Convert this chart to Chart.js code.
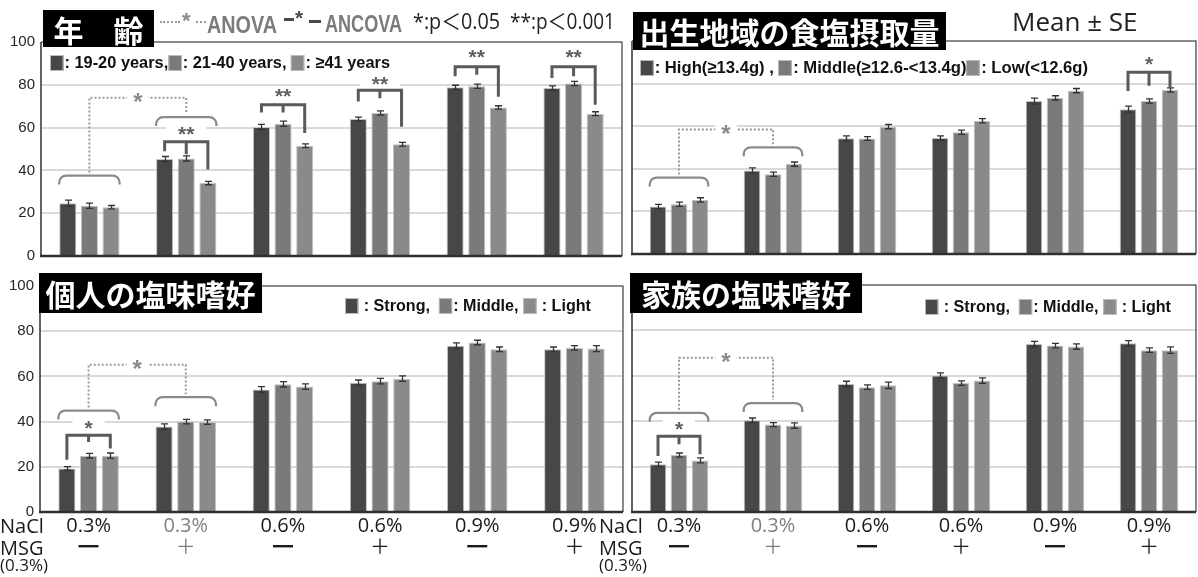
<!DOCTYPE html>
<html lang="ja">
<head>
<meta charset="utf-8">
<title>塩味の嗜好と評価</title>
<script src="https://cdn.jsdelivr.net/npm/chart.js@4.4.1/dist/chart.umd.min.js"></script>
<style>
  html, body { margin:0; padding:0; background:#fff; }
  body { position:relative; width:1198px; height:577px; overflow:hidden;
         font-family:"Liberation Sans","DejaVu Sans","Noto Sans CJK JP",sans-serif; color:#1a1a1a; }
  canvas { position:absolute; }
  .abs { position:absolute; white-space:nowrap; transform-origin:0 50%; }
  .ttl { position:absolute; background:#000; color:#fff; font-family:"Noto Sans CJK JP",sans-serif;
         font-weight:700; font-size:30px; display:flex; align-items:center; justify-content:center; }
  .lg { position:absolute; display:flex; align-items:center; font-weight:bold; font-size:17px;
        white-space:nowrap; color:#111; height:18px; transform-origin:0 50%; }
  .sq { display:inline-block; width:14px; height:16px; margin-right:1px; border:1px solid #bbb; box-sizing:border-box; }
  .ax { position:absolute; font-family:"Open Sans",sans-serif; font-size:20px; line-height:22px; color:#1a1a1a; white-space:nowrap; }
  .dot { position:absolute; border-top:2px dotted #9a9a9a; height:0; }
  .bar { position:absolute; border-top:3px solid #4a4a4a; height:0; }
</style>
</head>
<body>
<canvas id="cAge" width="630" height="280" style="left:0;top:0"></canvas>
<canvas id="cRegion" width="572" height="280" style="left:626px;top:0"></canvas>
<canvas id="cSelf" width="628" height="307" style="left:0;top:270px"></canvas>
<canvas id="cFamily" width="572" height="307" style="left:626px;top:270px"></canvas>

<!-- panel titles -->
<div class="ttl" style="left:43px;top:10px;width:111px;height:37px;">年　齢</div>
<div class="ttl" style="left:633px;top:12px;width:313px;height:38px;">出生地域の食塩摂取量</div>
<div class="ttl" style="left:39px;top:273px;width:223px;height:40px;">個人の塩味嗜好</div>
<div class="ttl" style="left:630px;top:273px;width:232px;height:40px;">家族の塩味嗜好</div>

<!-- significance key -->
<div class="dot" style="left:160px;top:21px;width:20px;"></div>
<div class="abs" style="left:182px;top:8px;color:#8a8a8a;font:bold 22px 'Liberation Sans',sans-serif;">*</div>
<div class="dot" style="left:196px;top:21px;width:10px;"></div>
<div class="abs" data-w="70" style="left:207px;top:12px;color:#7b7b7b;font-weight:bold;font-size:23px;line-height:26px;">ANOVA</div>
<div class="bar" style="left:284px;top:18px;width:10px;"></div>
<div class="abs" style="left:295px;top:6px;color:#4a4a4a;font:bold 21px 'Liberation Sans',sans-serif;">*</div>
<div class="bar" style="left:309px;top:20px;width:12px;"></div>
<div class="abs" data-w="77" style="left:325px;top:11px;color:#7b7b7b;font-weight:bold;font-size:23px;line-height:26px;">ANCOVA</div>
<div class="abs" data-w="87" style="left:413px;top:6px;font-family:'Open Sans','Noto Sans CJK JP',sans-serif;font-size:22px;line-height:28px;color:#222;">*:p＜0.05</div>
<div class="abs" data-w="105" style="left:510px;top:6px;font-family:'Open Sans','Noto Sans CJK JP',sans-serif;font-size:22px;line-height:28px;color:#222;">**:p＜0.001</div>
<div class="abs" style="left:1012px;top:3px;font-family:'Open Sans',sans-serif;font-size:26px;color:#222;">Mean ± SE</div>

<!-- series keys -->
<div class="lg" data-w="340" style="left:50px;top:54px;"><span class="sq s1"></span>: 19-20 years,<span class="sq s2"></span>: 21-40 years,&nbsp;<span class="sq s3"></span>: ≥41 years</div>
<div class="lg" data-w="448" style="left:640px;top:59px;"><span class="sq s1"></span>: High(≥13.4g) ,&nbsp;<span class="sq s2"></span>: Middle(≥12.6-&lt;13.4g)<span class="sq s3"></span>: Low(&lt;12.6g)</div>
<div class="lg" data-w="246" style="left:345px;top:297px;"><span class="sq s1"></span>&nbsp;: Strong,&nbsp;&nbsp;<span class="sq s2"></span>: Middle,&nbsp;<span class="sq s3"></span>&nbsp;: Light</div>
<div class="lg" data-w="246" style="left:925px;top:298px;"><span class="sq s1"></span>&nbsp;: Strong,&nbsp;&nbsp;<span class="sq s2"></span>: Middle,&nbsp;<span class="sq s3"></span>&nbsp;: Light</div>

<!-- row headers of the category axis -->
<div class="ax" style="left:0;top:515px;">NaCl</div>
<div class="ax" style="left:0;top:537px;">MSG</div>
<div class="ax" style="left:0;top:556px;font-size:17px;line-height:18px;">(0.3%)</div>
<div class="ax" style="left:599px;top:515px;">NaCl</div>
<div class="ax" style="left:599px;top:537px;">MSG</div>
<div class="ax" style="left:599px;top:556px;font-size:17px;line-height:18px;">(0.3%)</div>

<script>
// ---- category axis ----
const naclLabels = ['0.3%', '0.3%', '0.6%', '0.6%', '0.9%', '0.9%'];
const msgLabels  = ['━', '＋', '━', '＋', '━', '＋'];

// ---- 年齢 ----
const age19to20     = [24.7, 45.3, 60.3, 64.0, 78.8, 78.5];
const age19to20Se   = [1.4, 1.2, 1.2, 0.9, 1.0, 1.0];
const age21to40     = [23.5, 45.6, 61.8, 66.8, 79.3, 80.6];
const age21to40Se   = [1.2, 1.2, 1.2, 1.0, 1.0, 1.0];
const age41plus     = [22.8, 34.1, 51.5, 52.2, 69.4, 66.5];
const age41plusSe   = [0.8, 0.8, 0.9, 0.9, 0.8, 0.9];

// ---- 出生地域の食塩摂取量 ----
const saltHigh      = [22.3, 39.2, 54.3, 54.5, 71.8, 68.0];
const saltHighSe    = [1.0, 1.2, 1.2, 1.0, 1.4, 1.4];
const saltMiddle    = [23.4, 37.4, 54.2, 57.2, 73.3, 71.8];
const saltMiddleSe  = [1.0, 1.0, 0.9, 1.0, 1.0, 1.0];
const saltLow       = [25.4, 42.2, 59.8, 62.6, 76.7, 77.0];
const saltLowSe     = [1.0, 1.0, 1.0, 1.0, 1.0, 1.0];

// ---- 個人の塩味嗜好 ----
const selfStrong    = [19.3, 37.8, 54.2, 57.2, 73.6, 72.0];
const selfStrongSe  = [0.8, 1.2, 1.3, 1.2, 1.2, 1.0];
const selfMiddle    = [24.9, 40.0, 56.5, 57.9, 75.0, 72.6];
const selfMiddleSe  = [1.0, 1.0, 1.2, 1.2, 1.0, 1.0];
const selfLight     = [24.9, 39.8, 55.5, 59.0, 72.0, 72.3];
const selfLightSe   = [1.2, 1.0, 1.2, 1.2, 1.0, 1.3];

// ---- 家族の塩味嗜好 ----
const famStrong     = [21.0, 40.4, 56.4, 60.1, 74.0, 74.3];
const famStrongSe   = [1.0, 1.0, 1.2, 1.2, 1.2, 1.2];
const famMiddle     = [25.1, 38.5, 55.0, 56.8, 73.3, 71.3];
const famMiddleSe   = [0.9, 0.9, 1.0, 1.0, 1.0, 1.0];
const famLight      = [22.7, 38.1, 55.8, 57.9, 72.9, 71.3];
const famLightSe    = [1.1, 1.2, 1.4, 1.2, 1.2, 1.4];

// ---- significance marks (category index, label, bracket level, leg ends, label level) ----
const ageAncova = [
  { cat: 1, label: '**', top: 53.4, legs: [49.0, 47.5, 40.4], text: 58.5 },
  { cat: 2, label: '**', top: 70.7, legs: [67.0, 67.0, 57.5], text: 76.0 },
  { cat: 3, label: '**', top: 77.4, legs: [72.2, 73.7, 60.4], text: 82.0 },
  { cat: 4, label: '**', top: 88.4, legs: [84.0, 84.7, 74.4], text: 94.5 },
  { cat: 5, label: '**', top: 88.4, legs: [83.2, 84.0, 70.7], text: 94.3 }
];
const ageAnova    = { from: 0, to: 1, braceFrom: 37.6, braceTo: 64.9, link: 74.0 };
const saltAncova  = [ { cat: 5, label: '*', top: 85.3, legs: [76.5, 79.0, 78.2], text: 90.7 } ];
const saltAnova   = { from: 0, to: 1, braceFrom: 35.9, braceTo: 50.1, link: 58.5 };
const selfAncova  = [ { cat: 0, label: '*', top: 34.0, legs: [23.1, 31.0, 28.1], text: 38.5 } ];
const selfAnova   = { from: 0, to: 1, braceFrom: 44.9, braceTo: 50.8, link: 65.2 };
const famAncova   = [ { cat: 0, label: '*', top: 33.4, legs: [24.7, 29.8, 25.4], text: 37.8 } ];
const famAnova    = { from: 0, to: 1, braceFrom: 43.7, braceTo: 48.0, link: 68.0 };

const barColors = ['#474747', '#7a7a7a', '#8a8a8a'];
document.querySelectorAll('.s1').forEach(e => e.style.background = barColors[0]);
document.querySelectorAll('.s2').forEach(e => e.style.background = barColors[1]);
document.querySelectorAll('.s3').forEach(e => e.style.background = barColors[2]);

// squeeze key texts horizontally to their layout width
function fitWidths() {
  document.querySelectorAll('[data-w]').forEach(el => {
    el.style.transform = 'none';
    const w = el.getBoundingClientRect().width;
    const target = parseFloat(el.dataset.w);
    if (w > 0) el.style.transform = 'scaleX(' + (target / w).toFixed(4) + ')';
  });
}
fitWidths();
if (document.fonts && document.fonts.ready) document.fonts.ready.then(fitWidths);

const NARROW = '"Liberation Sans","DejaVu Sans",sans-serif';
const LABEL_FONT = '"Open Sans","Noto Sans CJK JP",sans-serif';

// plot frame: thin top/right border, left axis, heavier baseline
const framePlugin = {
  id: 'frame',
  afterDatasetsDraw(chart) {
    const { ctx, chartArea: a } = chart;
    ctx.save();
    ctx.strokeStyle = '#3c3c3c';
    ctx.lineWidth = 1.2;
    ctx.beginPath();
    ctx.moveTo(a.left, a.top); ctx.lineTo(a.right, a.top); ctx.lineTo(a.right, a.bottom);
    ctx.stroke();
    ctx.lineWidth = 1.6;
    ctx.beginPath(); ctx.moveTo(a.left, a.top); ctx.lineTo(a.left, a.bottom); ctx.stroke();
    ctx.strokeStyle = '#303030';
    ctx.lineWidth = 2.4;
    ctx.beginPath(); ctx.moveTo(a.left - 1, a.bottom); ctx.lineTo(a.right, a.bottom); ctx.stroke();
    ctx.restore();
  }
};

// ± SE whiskers on every bar
const errorBarPlugin = {
  id: 'errorBars',
  afterDatasetsDraw(chart) {
    const { ctx } = chart;
    const ys = chart.scales.y;
    ctx.save();
    ctx.strokeStyle = '#333';
    ctx.lineWidth = 1.3;
    chart.data.datasets.forEach((ds, i) => {
      chart.getDatasetMeta(i).data.forEach((bar, j) => {
        const v = ds.data[j], e = ds.se[j];
        const x = Math.round(bar.x) + 0.5;
        const t = ys.getPixelForValue(v + e), b = ys.getPixelForValue(v - e);
        ctx.beginPath();
        ctx.moveTo(x, t); ctx.lineTo(x, b);
        ctx.moveTo(x - 3.5, t); ctx.lineTo(x + 3.5, t);
        ctx.moveTo(x - 3.5, b); ctx.lineTo(x + 3.5, b);
        ctx.stroke();
      });
    });
    ctx.restore();
  }
};

function drawStar(ctx, text, cx, cy, font, color, padX) {
  ctx.font = font;
  const m = ctx.measureText(text);
  const asc = m.actualBoundingBoxAscent, desc = m.actualBoundingBoxDescent;
  const base = cy + (asc - desc) / 2;
  ctx.fillStyle = '#fff';
  ctx.fillRect(cx - m.width / 2 - padX, base - asc - 3, m.width + 2 * padX, asc + desc + 6);
  ctx.fillStyle = color;
  ctx.textAlign = 'center';
  ctx.textBaseline = 'alphabetic';
  ctx.fillText(text, cx, base);
}

// ANCOVA brackets (solid) and ANOVA braces with dotted link
const sigPlugin = {
  id: 'sigMarks',
  afterDatasetsDraw(chart, args, opts) {
    const { ctx } = chart;
    const ys = chart.scales.y;
    const py = v => ys.getPixelForValue(v);
    const barsAt = c => [0, 1, 2].map(i => chart.getDatasetMeta(i).data[c]);
    ctx.save();

    const an = opts.anova;
    if (an) {
      ctx.strokeStyle = '#8a8a8a';
      ctx.lineWidth = 2.2;
      ctx.setLineDash([]);
      [[an.from, an.braceFrom], [an.to, an.braceTo]].forEach(([c, top]) => {
        const bs = barsAt(c);
        const x0 = bs[0].x - bs[0].width / 2, x1 = bs[2].x + bs[2].width / 2;
        const yT = py(top), yB = yT + 9;
        const r = 7;
        ctx.beginPath();
        ctx.moveTo(x0, yB);
        ctx.arcTo(x0, yT, x0 + r, yT, r);
        ctx.lineTo(x1 - r, yT);
        ctx.arcTo(x1, yT, x1, yB, r);
        ctx.lineTo(x1, yB);
        ctx.stroke();
      });
      const xa = barsAt(an.from)[1].x, xb = barsAt(an.to)[1].x;
      const yc = py(an.link);
      ctx.strokeStyle = '#9a9a9a';
      ctx.lineWidth = 2;
      ctx.setLineDash([2, 2]);
      ctx.beginPath();
      ctx.moveTo(xa, py(an.braceFrom) - 3);
      ctx.lineTo(xa, yc);
      ctx.lineTo(xb, yc);
      ctx.lineTo(xb, py(an.braceTo) - 3);
      ctx.stroke();
      ctx.setLineDash([]);
      drawStar(ctx, '*', (xa + xb) / 2, yc, 'bold 24px "Liberation Sans",sans-serif', '#8a8a8a', 6);
    }

    (opts.ancova || []).forEach(b => {
      const xs = barsAt(b.cat).map(e => e.x);
      const yT = py(b.top);
      ctx.strokeStyle = '#5a5a5a';
      ctx.lineWidth = 3;
      ctx.lineJoin = 'miter';
      ctx.beginPath();
      ctx.moveTo(xs[0], py(b.legs[0]));
      ctx.lineTo(xs[0], yT);
      ctx.lineTo(xs[2], yT);
      ctx.lineTo(xs[2], py(b.legs[2]));
      ctx.moveTo(xs[1], yT);
      ctx.lineTo(xs[1], py(b.legs[1]));
      ctx.stroke();
      drawStar(ctx, b.label, xs[1], py(b.text), 'bold 21px "Liberation Sans",sans-serif', '#5f5f5f', 12);
    });
    ctx.restore();
  }
};

function panel(id, cfg) {
  const canvas = document.getElementById(id);
  const W = canvas.width, H = canvas.height;
  const a = cfg.area;
  return new Chart(canvas, {
    type: 'bar',
    data: {
      labels: cfg.showX ? naclLabels.map((n, i) => [n, msgLabels[i]]) : naclLabels,
      datasets: cfg.series.map((s, i) => ({
        label: cfg.names[i],
        data: s[0],
        se: s[1],
        backgroundColor: barColors[i],
        borderColor: '#c2c2c2',
        borderWidth: 1,
        categoryPercentage: 0.67,
        barPercentage: 0.79
      }))
    },
    options: {
      responsive: false,
      animation: false,
      devicePixelRatio: 1,
      layout: { padding: {
        left: cfg.showY ? 0 : a.left,
        top: a.top,
        right: W - a.right,
        bottom: cfg.showX ? 0 : H - a.bottom
      } },
      plugins: {
        legend: { display: false },
        tooltip: { enabled: false },
        sigMarks: { ancova: cfg.ancova, anova: cfg.anova }
      },
      scales: {
        x: {
          display: !!cfg.showX,
          grid: { display: false },
          border: { display: false },
          ticks: {
            font: { family: LABEL_FONT, size: 20, lineHeight: 1.1 },
            color: c => (c.index === 1 ? '#808080' : '#1a1a1a'),
            padding: -5,
            maxRotation: 0,
            autoSkip: false
          },
          afterFit: s => { s.height = H - a.bottom; }
        },
        y: {
          min: 0, max: 100,
          ticks: { display: !!cfg.showY, stepSize: 20, padding: 6,
                   font: { family: NARROW, size: 15 }, color: '#262626' },
          grid: { color: '#d9d9d9', lineWidth: 2, drawTicks: false },
          border: { display: false },
          afterFit: s => { s.width = cfg.showY ? a.left : 0; }
        }
      }
    },
    plugins: [framePlugin, errorBarPlugin, sigPlugin]
  });
}

panel('cAge', {
  area: { left: 41, top: 42, right: 622, bottom: 268 }, showY: true, showX: false,
  names: ['19-20 years', '21-40 years', '≥41 years'],
  series: [[age19to20, age19to20Se], [age21to40, age21to40Se], [age41plus, age41plusSe]],
  ancova: ageAncova, anova: ageAnova
});
panel('cRegion', {
  area: { left: 6, top: 41, right: 570, bottom: 267 }, showY: false, showX: false,
  names: ['High(≥13.4g)', 'Middle(≥12.6-<13.4g)', 'Low(<12.6g)'],
  series: [[saltHigh, saltHighSe], [saltMiddle, saltMiddleSe], [saltLow, saltLowSe]],
  ancova: saltAncova, anova: saltAnova
});
panel('cSelf', {
  area: { left: 40, top: 16, right: 623, bottom: 242 }, showY: true, showX: true,
  names: ['Strong', 'Middle', 'Light'],
  series: [[selfStrong, selfStrongSe], [selfMiddle, selfMiddleSe], [selfLight, selfLightSe]],
  ancova: selfAncova, anova: selfAnova
});
panel('cFamily', {
  area: { left: 6, top: 15, right: 570, bottom: 242 }, showY: false, showX: true,
  names: ['Strong', 'Middle', 'Light'],
  series: [[famStrong, famStrongSe], [famMiddle, famMiddleSe], [famLight, famLightSe]],
  ancova: famAncova, anova: famAnova
});
</script>
</body>
</html>
